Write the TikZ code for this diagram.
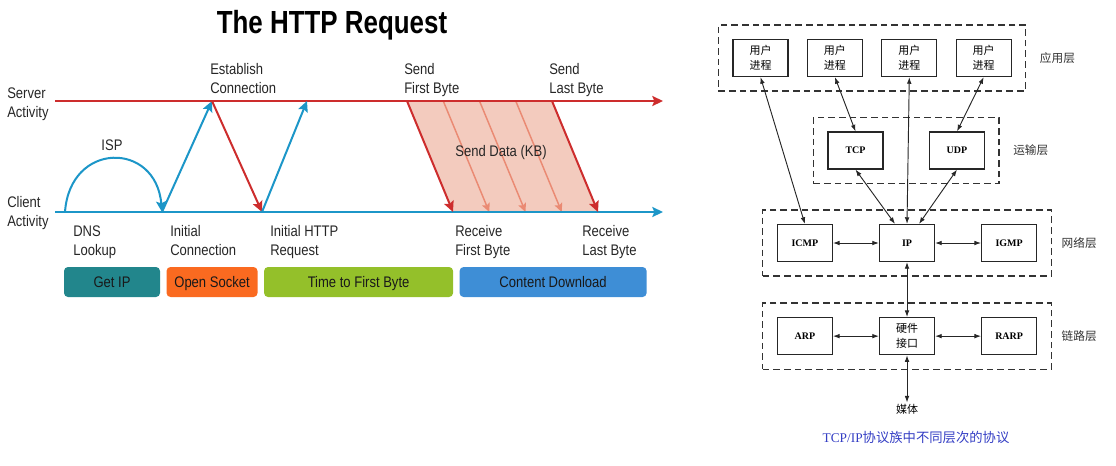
\documentclass[tikz,border=0pt]{standalone}
\usepackage{fontspec}
\usepackage{tikz}
\usetikzlibrary{positioning,arrows.meta,calc,fit}
\newfontfamily\slidefont[FakeStretch=0.85]{Liberation Sans}
\newfontfamily\titlefont[FakeStretch=0.81]{Liberation Sans}
\newfontfamily\cjk{Noto Sans CJK SC}
\newfontfamily\bookfont{Liberation Serif}
\definecolor{srvred}{RGB}{205,45,45}
\definecolor{cliblue}{RGB}{28,150,200}
\definecolor{datafill}{RGB}{243,203,190}
\definecolor{datasoft}{RGB}{234,138,115}
\definecolor{ipteal}{RGB}{34,134,140}
\definecolor{sockorange}{RGB}{250,106,32}
\definecolor{ttfbgreen}{RGB}{148,192,42}
\definecolor{dlblue}{RGB}{62,142,214}
\definecolor{capblue}{RGB}{52,62,196}

\begin{document}
\begin{tikzpicture}[
  x=0.75pt, y=-0.75pt,
  >={Stealth[length=8pt,width=7.5pt,inset=1.5pt]},
  lab/.style={font=\slidefont\fontsize{11.5}{14.25}\selectfont, text=black!85, align=left, inner sep=0pt, anchor=base west},
  phase/.style={rounded corners=3pt, minimum height=22.5pt, inner sep=0pt, text height=8.2pt, text depth=0pt, font=\slidefont\fontsize{11.5}{14}\selectfont, text=black!90},
  srv/.style={srvred, line width=1.5pt},
  cli/.style={cliblue, line width=1.5pt},
  chunk/.style={>={Stealth[length=6.5pt,width=6pt,inset=1.2pt]}, ->, datasoft, line width=1.1pt},
  box/.style={draw=black!85, line width=0.85pt, minimum width=41.25pt, minimum height=27.75pt, inner sep=0pt, align=center},
  proc/.style={box, font=\cjk\fontsize{8.25}{11.25}\selectfont},
  proto/.style={box, font=\bookfont\bfseries\fontsize{7.5}{9}\selectfont},
  layer/.style={draw=black!80, line width=0.9pt, dash pattern=on 5pt off 3pt, inner sep=10.5pt},
  lname/.style={font=\cjk\fontsize{8.75}{10}\selectfont, text=black!80, inner sep=0pt},
  link/.style={{Latex[length=5pt,width=3.5pt]}-{Latex[length=5pt,width=3.5pt]}, line width=0.7pt, black!85}
]
\useasboundingbox (0,0) rectangle (1116,465);

\node[font=\titlefont\bfseries\fontsize{24}{28}\selectfont, anchor=base] (title) at (332,33) {The HTTP Request};

\coordinate (srvL) at (55,101);
\coordinate (srvR) at (663,101);
\coordinate (cliL) at (55,212);
\coordinate (cliR) at (663,212);
\coordinate (dns) at (65,212);
\coordinate (gotip) at (162,212);
\coordinate (syn) at (212,101);
\coordinate (synack) at (262,212);
\coordinate (req) at (307,101);
\coordinate (sfirst) at (407,101);
\coordinate (slast) at (552,101);
\coordinate (rfirst) at (453,212);
\coordinate (rlast) at (598,212);

\fill[datafill] (sfirst) -- (slast) -- (rlast) -- (rfirst) -- cycle;
\foreach \k in {1,2,3}
  \draw[chunk] ($(sfirst)!\k/4!(slast)$) -- ($(rfirst)!\k/4!(rlast)$);
\draw[->, srv] (srvL) -- (srvR);
\draw[->, cli] (cliL) -- (cliR);
\draw[->, cli] (dns) .. controls (70,141) and (156,141) .. (gotip);
\draw[->, cli] (gotip) -- (syn);
\draw[->, srv] (syn) -- (synack);
\draw[->, cli] (synack) -- (req);
\draw[->, srv] (sfirst) -- (rfirst);
\draw[->, srv] (slast) -- (rlast);

\node[lab] (srvlab) at (7,117) {Server\\Activity};
\node[lab] (clilab) at (7,226) {Client\\Activity};
\node[lab, anchor=base] (isp) at (112,150) {ISP};
\node[lab] (estab) at (210,93) {Establish\\Connection};
\node[lab] (sendfirst) at (404,93) {Send\\First Byte};
\node[lab] (sendlast) at (549,93) {Send\\Last Byte};
\node[lab, anchor=base] (senddata) at (501,156) {Send Data (KB)};
\node[lab] (dnslab) at (73,255) {DNS\\Lookup};
\node[lab] (initconn) at (170,255) {Initial\\Connection};
\node[lab] (inithttp) at (270,255) {Initial HTTP\\Request};
\node[lab] (recvfirst) at (455,255) {Receive\\First Byte};
\node[lab] (recvlast) at (582,255) {Receive\\Last Byte};

\node[phase, fill=ipteal, minimum width=72pt] (getip) at (112,282) {Get IP};
\node[phase, fill=sockorange, minimum width=68.25pt, right=4.5pt of getip] (socket) {Open Socket};
\node[phase, fill=ttfbgreen, minimum width=141.75pt, right=4.5pt of socket] (ttfb) {Time to First Byte};
\node[phase, fill=dlblue, minimum width=140.25pt, right=4.5pt of ttfb] (download) {Content Download};

\node[proc] (u1) at (760.5,58) {用户\\进程};
\node[proc, right=13.7pt of u1] (u2) {用户\\进程};
\node[proc, right=13.7pt of u2] (u3) {用户\\进程};
\node[proc, right=13.7pt of u3] (u4) {用户\\进程};
\node[proto] (tcp) at (855.5,150.5) {TCP};
\node[proto] (udp) at (957,150.5) {UDP};
\node[proto] (ip) at (907,243) {IP};
\node[proto, left=34.5pt of ip] (icmp) {ICMP};
\node[proto, right=34.5pt of ip] (igmp) {IGMP};
\node[proc, below=41.25pt of ip] (hw) {硬件\\接口};
\node[proto, left=34.5pt of hw] (arp) {ARP};
\node[proto, right=34.5pt of hw] (rarp) {RARP};
\node[font=\cjk\fontsize{8.25}{10}\selectfont, inner sep=1pt, below=35.5pt of hw] (media) {媒体};

\node[layer, fit=(u1)(u4)] (app) {};
\node[layer, fit=(tcp)(udp)] (trans) {};
\node[layer, fit=(icmp)(igmp)] (net) {};
\node[layer, fit=(arp)(rarp)] (lnk) {};
\node[lname, right=10pt of app] (appname) {应用层};
\node[lname, right=10pt of trans] (transname) {运输层};
\node[lname, right=7.2pt of net] (netname) {网络层};
\node[lname, right=7.2pt of lnk] (lnkname) {链路层};

\draw[link] (u1.south) -- (icmp.north);
\draw[link] (u2.south) -- (tcp.north);
\draw[link] (u3.south) -- (ip.north);
\draw[link] (u4.south) -- (udp.north);
\draw[link] (tcp.south) -- ([xshift=-9pt]ip.north);
\draw[link] (udp.south) -- ([xshift=9pt]ip.north);
\draw[link] (icmp) -- (ip);
\draw[link] (ip) -- (igmp);
\draw[link] (ip) -- (hw);
\draw[link] (arp) -- (hw);
\draw[link] (hw) -- (rarp);
\draw[link] (hw) -- (media);

\node[font=\cjk\fontsize{10}{12}\selectfont, text=capblue] (caption) at (916,437) {{\bookfont TCP/IP}协议族中不同层次的协议};

\end{tikzpicture}
\end{document}
